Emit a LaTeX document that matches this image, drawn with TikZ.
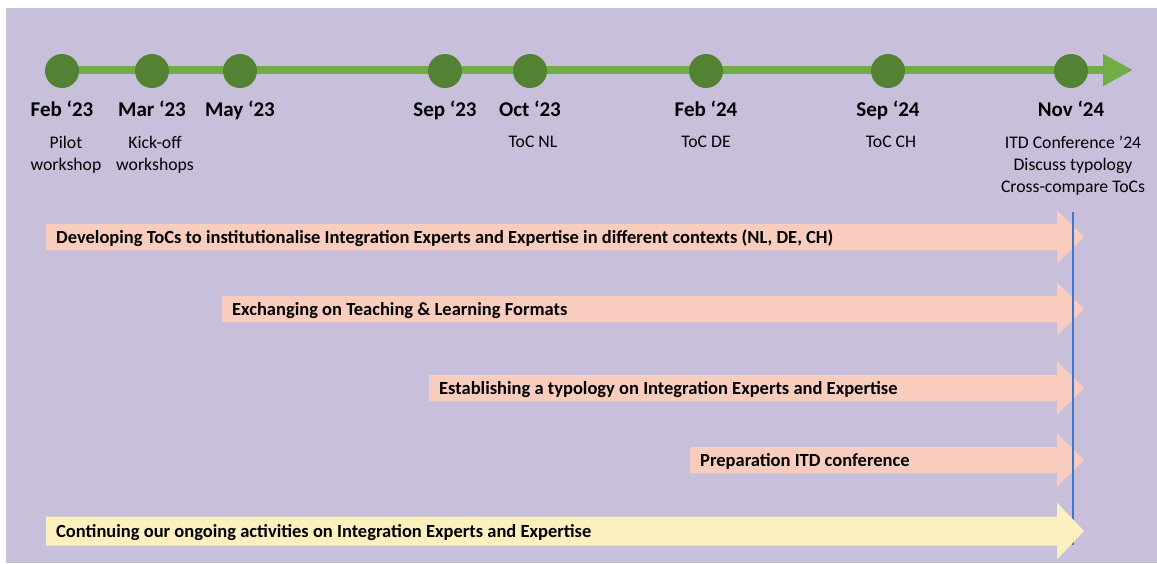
\documentclass[tikz,border=0pt]{standalone}
\usepackage{fontspec}
\setmainfont{Carlito}
\usetikzlibrary{arrows.meta}
\definecolor{bgpurple}{HTML}{C8BFDB}
\definecolor{tlgreen}{HTML}{70AD47}
\definecolor{dotgreen}{HTML}{548235}
\definecolor{barpink}{HTML}{F8CDBE}
\definecolor{baryellow}{HTML}{FDF0BF}
\definecolor{confblue}{HTML}{4472C4}
\newcommand\tlbar[7]{% name, left x, center y, colour, body half, head half, text
  \fill[#4] (#2,#3-#5) -- (1057,#3-#5) -- (1057,#3-#6) -- (1084,#3) -- (1057,#3+#6) -- (1057,#3+#5) -- (#2,#3+#5) -- cycle;
  \node[bartext] (#1) at (#2+10,#3+6) {#7};}
\begin{document}
\begin{tikzpicture}[x=1pt,y=-1pt,
  milestone/.style={circle, fill=dotgreen, minimum size=34pt, inner sep=0pt},
  datelabel/.style={anchor=base, inner sep=0pt, font=\bfseries\fontsize{21}{25}\selectfont},
  sublabel/.style={anchor=north, inner sep=0pt, align=center, font=\fontsize{17.7}{22}\selectfont},
  bartext/.style={anchor=base west, inner sep=0pt, font=\bfseries\fontsize{18.5}{22}\selectfont}]
\useasboundingbox (0,0) rectangle (1157,563);
\fill[bgpurple] (6,8) rectangle (1157,563);
% timeline
\coordinate (tlstart) at (48,70);
\coordinate (tlend) at (1133,70);
\draw[line width=8pt, tlgreen, -{Triangle[length=30pt,width=30pt]}] (tlstart) -- (tlend);
\foreach \x/\n/\d in {62/a/Feb ‘23, 152/b/Mar ‘23, 240/c/May ‘23, 445/d/Sep ‘23, 530/e/Oct ‘23, 706/f/Feb ‘24, 888/g/Sep ‘24, 1071/h/Nov ‘24}{
  \node[milestone] (m\n) at (\x,71) {};
  \node[datelabel] (d\n) at (\x,116) {\d};
}
\node[sublabel] (sa) at (66,136) {Pilot\\workshop};
\node[sublabel] (sb) at (155,136) {Kick-off\\workshops};
\node[sublabel] (se) at (533,136) {ToC NL};
\node[sublabel] (sf) at (706,136) {ToC DE};
\node[sublabel] (sg) at (891,136) {ToC CH};
\node[sublabel] (sh) at (1073,136) {ITD Conference ’24\\Discuss typology\\Cross-compare ToCs};
% bars
\tlbar{b1}{46}{237}{barpink}{13}{26.5}{Developing ToCs to institutionalise Integration Experts and Expertise in different contexts (NL, DE, CH)}
\tlbar{b2}{222}{309}{barpink}{13}{26.5}{Exchanging on Teaching \& Learning Formats}
\tlbar{b3}{429}{388}{barpink}{13}{26.5}{Establishing a typology on Integration Experts and Expertise}
\tlbar{b4}{690}{460}{barpink}{13}{26.5}{Preparation ITD conference}
\coordinate (vtop) at (1073,212);
\coordinate (vbot) at (1073,545);
\draw[confblue, line width=2pt] (vtop) -- (vbot);
\tlbar{b5}{46}{531}{baryellow}{14.5}{28.5}{Continuing our ongoing activities on Integration Experts and Expertise}
\end{tikzpicture}
\end{document}
